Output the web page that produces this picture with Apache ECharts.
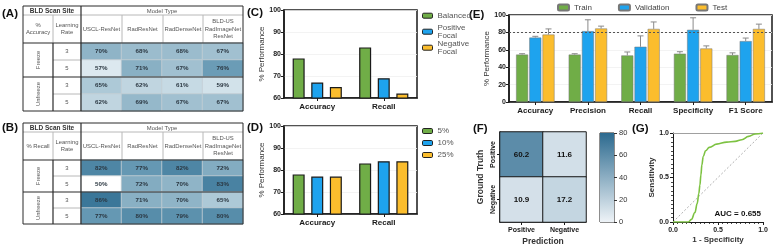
<!DOCTYPE html>
<html><head><meta charset="utf-8">
<script src="https://cdn.jsdelivr.net/npm/echarts@6/dist/echarts.min.js"></script>
<style>html,body{margin:0;padding:0;background:#fff}#c{width:779px;height:250px}</style>
</head><body><div id="c"></div>
<script>
// ---------- DATA ----------
const modelTypes = ['USCL-ResNet', 'RadResNet', 'RadDenseNet', 'BLD-US\nRadImageNet\nResNet'];
const trainGroups = ['Freeze', 'Unfreeze'];
const learningRates = ['3', '5', '3', '5'];
const accuracyTable = [[70, 68, 68, 67], [57, 71, 67, 76], [65, 62, 61, 59], [62, 69, 67, 67]];
const recallTable = [[82, 77, 82, 72], [50, 72, 70, 83], [86, 71, 70, 65], [77, 80, 79, 80]];

const perfMetrics = ['Accuracy', 'Recall'];
const lossNames = ['Balanced', 'Positive\nFocal', 'Negative\nFocal'];
const lossValues = [[78, 83], [67, 69], [65, 62]];
const ratioNames = ['5%', '10%', '25%'];
const ratioValues = [[78, 83], [77, 84], [77, 84]];

const splitMetrics = ['Accuracy', 'Precision', 'Recall', 'Specificity', 'F1 Score'];
const splitNames = ['Train', 'Validation', 'Test'];
const splitValues = [[54.5, 54.5, 53.5, 55.5, 54], [74, 81.5, 63.5, 83, 70], [77.5, 84.5, 84, 61.5, 84]];
const splitErrors = [[1, 1, 4, 2.3, 2.5], [1.5, 13, 12.5, 13.8, 3.5], [6.5, 2.7, 8, 3, 5.5]];
const thresholdLine = 80;

const predLabels = ['Positive', 'Negative'];
const truthLabels = ['Negative', 'Positive']; // bottom to top
const confMatrix = [[60.2, 11.6], [10.9, 17.2]]; // rows: truth Positive, Negative; cols: pred Positive, Negative
const colorbarMax = 80;

const rocFpr = [0, 0.17, 0.205, 0.243, 0.269, 0.287, 0.299, 0.31, 0.321, 0.336, 0.362, 0.403, 0.485, 0.597, 0.69, 0.765, 0.84, 0.914, 1];
const rocTpr = [0, 0, 0.03, 0.106, 0.208, 0.321, 0.415, 0.528, 0.642, 0.736, 0.8, 0.838, 0.875, 0.898, 0.906, 0.925, 0.962, 0.989, 1];
const aucText = 'AUC = 0.655';

// ---------- STYLE ----------
const FONT = 'Liberation Sans';
const GREEN = '#70ad47', BLUE = '#1ea3ee', YELLOW = '#fbbd2d';
const barColors = [GREEN, BLUE, YELLOW];

const tableA = { x: [23, 53, 81, 122, 163, 203, 243], y: [6, 15, 43, 60, 77, 94, 111], metric: '%\nAccuracy' };
const tableB = { x: [23, 53, 81, 122, 163, 203, 243], y: [123, 132, 160, 176, 192, 208, 224], metric: '% Recall' };

function tableGraphics(L) {
  const els = [];
  const X = L.x, Y = L.y;
  const dark = '#2b2b2b', light = '#b8b8b8';
  const line = (x1, y1, x2, y2, c, w) => els.push({ type: 'line', silent: true, z: 100, shape: { x1, y1, x2, y2 }, style: { stroke: c, lineWidth: w } });
  const text = (x, y, t, o) => els.push({ type: 'text', silent: true, z: 101, x, y, rotation: o.rot || 0,
    style: { text: t, fill: o.fill || '#555', fontSize: o.size || 5.9, fontWeight: o.bold ? 'bold' : 'normal', fontFamily: FONT,
      align: 'center', verticalAlign: 'middle', lineHeight: o.lh || 7.5 } });
  // lines
  line(X[0], Y[1], X[6], Y[1], light, 1);
  line(X[1], Y[1], X[1], Y[2], light, 1);
  for (let i = 3; i <= 5; i++) line(X[i], Y[1], X[i], Y[2], light, 1);
  line(X[1], Y[3], X[2], Y[3], light, 1);
  line(X[1], Y[5], X[2], Y[5], light, 1);
  line(X[1], Y[2], X[1], Y[6], dark, 1.2);
  line(X[2], Y[0], X[2], Y[6], dark, 1.2);
  line(X[0], Y[2], X[6], Y[2], dark, 1.2);
  line(X[0], Y[4], X[6], Y[4], dark, 1.2);
  els.push({ type: 'rect', silent: true, z: 100, shape: { x: X[0], y: Y[0], width: X[6] - X[0], height: Y[6] - Y[0] }, style: { fill: 'none', stroke: dark, lineWidth: 1 } });
  // header texts
  text((X[0] + X[2]) / 2, (Y[0] + Y[1]) / 2 + 0.5, 'BLD Scan Site', { bold: true, fill: '#333', size: 6.5 });
  text((X[2] + X[6]) / 2, (Y[0] + Y[1]) / 2 + 0.5, 'Model Type', {});
  const hy = (Y[1] + Y[2]) / 2;
  text((X[0] + X[1]) / 2, hy, L.metric, {});
  text((X[1] + X[2]) / 2, hy, 'Learning\nRate', {});
  modelTypes.forEach((m, i) => text((X[i + 2] + X[i + 3]) / 2, hy, m, {}));
  trainGroups.forEach((g, i) => text((X[0] + X[1]) / 2, (Y[2 + 2 * i] + Y[4 + 2 * i]) / 2, g, { rot: Math.PI / 2 }));
  learningRates.forEach((r, i) => text((X[1] + X[2]) / 2, (Y[2 + i] + Y[3 + i]) / 2, r, {}));
  return els;
}

function heatData(tbl) {
  const d = [];
  tbl.forEach((row, r) => row.forEach((v, c) => d.push([c, r, v])));
  return d;
}

const panelLabels = [
  ['(A)', 2, 14], ['(B)', 2, 128], ['(C)', 247, 13], ['(D)', 247, 128],
  ['(E)', 469, 15], ['(F)', 473, 129], ['(G)', 632, 129]
];

const graphicEls = [].concat(tableGraphics(tableA), tableGraphics(tableB));
panelLabels.forEach(p => graphicEls.push({ type: 'text', silent: true, x: p[1], y: p[2],
  style: { text: p[0], fontSize: 11.5, fontWeight: 'bold', fontFamily: FONT, fill: '#111', align: 'left', verticalAlign: 'middle' } }));
graphicEls.push({ type: 'text', silent: true, x: 761, y: 214, z: 50,
  style: { text: aucText, fontSize: 8, fontWeight: 'bold', fontFamily: FONT, fill: '#111', align: 'right', verticalAlign: 'middle' } });

// ---------- AXES ----------
const hiddenCat = (g, data, inverse) => ({ gridIndex: g, type: 'category', data, show: false, inverse: !!inverse });
const axLine = { lineStyle: { color: '#1a1a1a', width: 1.5 } };
const tickOut = { show: true, length: 3, lineStyle: { color: '#1a1a1a', width: 1 } };
const boldLbl = (size, extra) => Object.assign({ fontSize: size, fontWeight: 'bold', color: '#1a1a1a', fontFamily: FONT }, extra || {});
const yName = (name, gap) => ({ name, nameLocation: 'middle', nameGap: gap, nameTextStyle: { fontSize: 8, color: '#333', fontFamily: FONT } });

const perfYAxis = (g) => Object.assign({
  gridIndex: g, type: 'value', min: 60, max: 100, interval: 10,
  axisLine: Object.assign({ show: true }, axLine), axisTick: tickOut,
  axisLabel: boldLbl(7, { margin: 3 }), splitLine: { show: true, lineStyle: { color: '#f0f0f0', width: 0.8 } }
}, yName('% Performance', 15));
const perfXAxis = (g) => ({
  gridIndex: g, type: 'category', data: perfMetrics,
  axisLine: axLine, axisTick: Object.assign({ alignWithLabel: true }, tickOut),
  axisLabel: boldLbl(8, { margin: 5 })
});

const xAxes = [
  hiddenCat(0, modelTypes), hiddenCat(1, modelTypes),
  perfXAxis(2), perfXAxis(3),
  { gridIndex: 4, type: 'category', data: splitMetrics, axisLine: axLine,
    axisTick: Object.assign({ alignWithLabel: true }, tickOut), axisLabel: boldLbl(8, { margin: 5, interval: 0 }) },
  Object.assign({ gridIndex: 5, type: 'category', data: predLabels, axisLine: axLine,
    axisTick: Object.assign({ alignWithLabel: true }, tickOut), axisLabel: boldLbl(7, { margin: 5 }) },
    { name: 'Prediction', nameLocation: 'middle', nameGap: 15, nameTextStyle: { fontSize: 8.5, fontWeight: 'bold', color: '#333', fontFamily: FONT } }),
  hiddenCat(6, ['']),
  Object.assign({ gridIndex: 7, type: 'value', min: 0, max: 1, interval: 0.5,
    axisLine: { lineStyle: { color: '#1a1a1a', width: 1 } }, axisTick: tickOut,
    minorTick: { show: true, splitNumber: 10, length: 2, lineStyle: { color: '#1a1a1a', width: 0.8 } },
    axisLabel: boldLbl(7, { margin: 5, formatter: v => v.toFixed(1) }), splitLine: { show: false } },
    { name: '1 - Specificity', nameLocation: 'middle', nameGap: 14, nameTextStyle: { fontSize: 8, fontWeight: 'bold', color: '#333', fontFamily: FONT } })
];
const yAxes = [
  hiddenCat(0, ['0', '1', '2', '3'], true), hiddenCat(1, ['0', '1', '2', '3'], true),
  perfYAxis(2), perfYAxis(3),
  Object.assign({ gridIndex: 4, type: 'value', min: 0, max: 100, interval: 20,
    axisLine: Object.assign({ show: true }, axLine), axisTick: tickOut,
    axisLabel: boldLbl(7, { margin: 3 }), splitLine: { show: true, lineStyle: { color: '#f0f0f0', width: 0.8 } } },
    yName('% Performance', 12)),
  Object.assign({ gridIndex: 5, type: 'category', data: truthLabels, axisLine: axLine,
    axisTick: Object.assign({ alignWithLabel: true }, tickOut), axisLabel: boldLbl(7, { margin: 3, rotate: 90 }) },
    { name: 'Ground Truth', nameLocation: 'middle', nameGap: 15, nameTextStyle: { fontSize: 8.5, fontWeight: 'bold', color: '#333', fontFamily: FONT } }),
  { gridIndex: 6, type: 'value', min: 0, max: colorbarMax, interval: 20, position: 'right',
    axisLine: { show: false }, axisTick: { show: true, length: 3, lineStyle: { color: '#333' } },
    axisLabel: { fontSize: 7.5, color: '#333', margin: 5, fontFamily: FONT }, splitLine: { show: false } },
  Object.assign({ gridIndex: 7, type: 'value', min: 0, max: 1, interval: 0.5,
    axisLine: { show: true, lineStyle: { color: '#1a1a1a', width: 1 } }, axisTick: tickOut,
    minorTick: { show: true, splitNumber: 10, length: 2, lineStyle: { color: '#1a1a1a', width: 0.8 } },
    axisLabel: boldLbl(7, { margin: 4, formatter: v => v.toFixed(1) }), splitLine: { show: false } },
    { name: 'Sensitivity', nameLocation: 'middle', nameGap: 14, nameTextStyle: { fontSize: 8, fontWeight: 'bold', color: '#333', fontFamily: FONT } })
];

// ---------- SERIES ----------
const series = [];
const tblLabel = { show: true, formatter: p => p.value[2] + '%', fontSize: 6.2, fontWeight: 'bold', color: '#2a3640', fontFamily: FONT };
series.push({ type: 'heatmap', xAxisIndex: 0, yAxisIndex: 0, data: heatData(accuracyTable), label: tblLabel,
  itemStyle: { borderColor: '#c4ced4', borderWidth: 0.8 } });
series.push({ type: 'heatmap', xAxisIndex: 1, yAxisIndex: 1, data: heatData(recallTable), label: tblLabel,
  itemStyle: { borderColor: '#c4ced4', borderWidth: 0.8 } });

const perfBar = (name, vals, i, ax) => ({ type: 'bar', name, xAxisIndex: ax, yAxisIndex: ax, data: vals,
  barWidth: 12, barGap: '55%', itemStyle: { color: barColors[i], borderColor: '#1a1a1a', borderWidth: 1.2 } });
lossNames.forEach((n, i) => series.push(perfBar(n, lossValues[i], i, 2)));
ratioNames.forEach((n, i) => series.push(perfBar(n, ratioValues[i], i, 3)));

const eBarW = 12, eGap = 1.2;
splitNames.forEach((n, i) => {
  const s = { type: 'bar', name: n, xAxisIndex: 4, yAxisIndex: 4, data: splitValues[i], barWidth: eBarW, barGap: '10%',
    itemStyle: { color: barColors[i], borderColor: '#777', borderWidth: 0.5 } };
  if (i === 0) s.markLine = { silent: true, symbol: 'none', label: { show: false },
    lineStyle: { color: '#555', type: [2, 2], width: 1 }, data: [{ yAxis: thresholdLine }] };
  series.push(s);
});
splitNames.forEach((n, i) => {
  const offset = (i - 1) * (eBarW + eGap);
  series.push({ type: 'custom', name: n + ' error', xAxisIndex: 4, yAxisIndex: 4, z: 3,
    data: splitValues[i].map((v, k) => [k, v, splitErrors[i][k]]),
    renderItem: (params, api) => {
      const c = api.value(0), v = api.value(1), e = api.value(2);
      const p0 = api.coord([c, v]), p1 = api.coord([c, v + e]);
      const x = p0[0] + offset;
      const st = { stroke: '#8a8a8a', lineWidth: 1 };
      return { type: 'group', children: [
        { type: 'line', shape: { x1: x, y1: p0[1], x2: x, y2: p1[1] }, style: st },
        { type: 'line', shape: { x1: x - 3, y1: p1[1], x2: x + 3, y2: p1[1] }, style: st }
      ] };
    } });
});

const confData = [];
confMatrix.forEach((row, r) => row.forEach((v, c) => confData.push([c, 1 - r, v])));
series.push({ type: 'heatmap', xAxisIndex: 5, yAxisIndex: 5, data: confData,
  label: { show: true, fontSize: 8, fontWeight: 'bold', color: '#111', fontFamily: FONT, formatter: p => p.value[2].toFixed(1) },
  itemStyle: { borderColor: '#1a1a1a', borderWidth: 1 } });

series.push({ type: 'bar', xAxisIndex: 6, yAxisIndex: 6, data: [colorbarMax], barWidth: '100%', silent: true,
  itemStyle: { color: new echarts.graphic.LinearGradient(0, 0, 0, 1, [{ offset: 0, color: '#2c6a8f' }, { offset: 1, color: '#eef3f7' }]) } });

series.push({ type: 'line', xAxisIndex: 7, yAxisIndex: 7, data: [[0, 0], [1, 1]], symbol: 'none', silent: true,
  lineStyle: { color: '#9a9a9a', width: 0.8, type: [2, 2] },
  markLine: { silent: true, symbol: 'none', label: { show: false }, lineStyle: { color: '#a0a0a0', type: 'solid', width: 1 }, data: [{ yAxis: 1 }] } });
series.push({ type: 'line', xAxisIndex: 7, yAxisIndex: 7, data: rocFpr.map((x, i) => [x, rocTpr[i]]), symbol: 'none',
  smooth: 0.4, smoothMonotone: 'x', lineStyle: { color: '#7dc242', width: 1.6 }, z: 5 });

// ---------- LEGENDS ----------
const legendBase = { orient: 'vertical', left: 422, padding: 0, itemWidth: 10, itemHeight: 5, selectedMode: false,
  itemStyle: { borderColor: '#222', borderWidth: 1 }, textStyle: { fontSize: 8, lineHeight: 8, color: '#555', fontFamily: FONT } };
const cLegTops = [11.7, 23.7, 39.7];
const legends = lossNames.map((n, i) => Object.assign({}, legendBase, { top: cLegTops[i], data: [n] }));
legends.push(Object.assign({}, legendBase, { top: 127, itemGap: 4, data: ratioNames }));
legends.push({ orient: 'horizontal', left: 557, top: 3.5, padding: 0, itemWidth: 11, itemHeight: 6, itemGap: 26, selectedMode: false,
  data: splitNames, textStyle: { fontSize: 8, color: '#444', fontFamily: FONT } });

const option = {
  animation: false,
  textStyle: { fontFamily: FONT },
  grid: [
    { left: 81, top: 43, width: 162, height: 68 },
    { left: 81, top: 160, width: 162, height: 64 },
    { left: 284, top: 10, width: 133, height: 88, show: true, borderColor: '#1a1a1a', borderWidth: 1.5 },
    { left: 284, top: 126, width: 133, height: 88, show: true, borderColor: '#1a1a1a', borderWidth: 1.5 },
    { left: 509, top: 15, width: 263, height: 87, show: true, borderColor: '#1a1a1a', borderWidth: 1.5 },
    { left: 500, top: 132, width: 86, height: 90 },
    { left: 600, top: 133, width: 14, height: 89, show: true, borderColor: '#1a1a1a', borderWidth: 1 },
    { left: 673, top: 133, width: 90, height: 89 }
  ],
  xAxis: xAxes,
  yAxis: yAxes,
  visualMap: [
    { show: false, seriesIndex: [0, 1], dimension: 2, min: 50, max: 86,
      inRange: { color: ['#ffffff', '#d2e2ea', '#9bbccd', '#6598b3', '#3b7799'] } },
    { show: false, seriesIndex: [14], dimension: 2, min: 0, max: colorbarMax,
      inRange: { color: ['#eef3f7', '#2c6a8f'] } }
  ],
  legend: legends,
  series,
  graphic: { elements: graphicEls }
};

echarts.init(document.getElementById('c'), null, { renderer: 'canvas' }).setOption(option);
</script>
</body></html>
